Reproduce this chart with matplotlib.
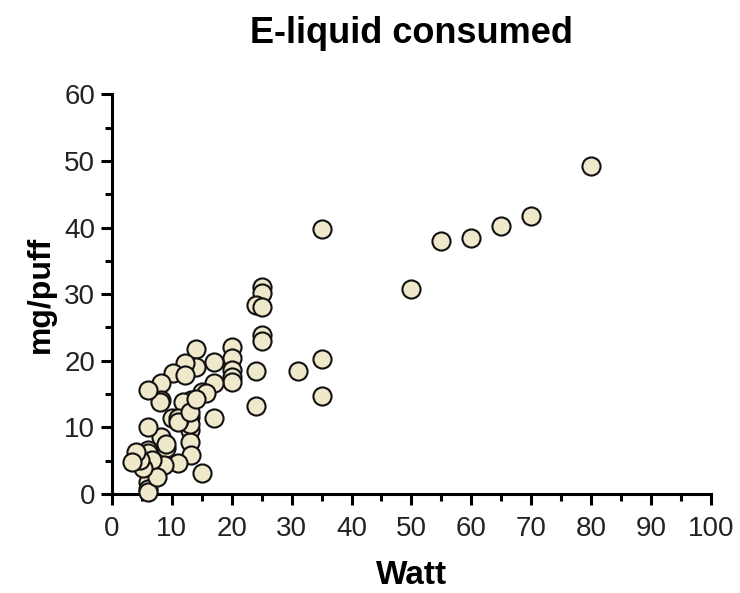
import matplotlib
matplotlib.use("Agg")
import matplotlib.pyplot as plt
from matplotlib.ticker import MultipleLocator

plt.rcParams['font.family'] = ['Liberation Sans', 'DejaVu Sans']

# Watt vs mg/puff
watt = [80, 70, 65, 60, 55, 50, 35, 35, 35, 31,
        25, 25, 24, 25, 25, 25, 24, 24,
        20, 20, 20, 20, 20,
        17, 17, 17, 14, 14, 15, 15, 15.8,
        13.3, 13, 13, 13, 13.3, 13, 12.2, 12, 11.9, 11.3,
        10.2, 10, 11, 11, 12.2,
        8.3, 8.3, 8, 8.3, 9.1, 8.8, 9.1,
        6, 6, 6, 6, 6, 6, 6, 6.8, 7.5,
        5.2, 4.7, 4.1, 3.3, 11, 13, 14.1]
mg_puff = [49.2, 41.8, 40.2, 38.5, 38.0, 30.8, 39.8, 20.3, 14.7, 18.4,
           31.0, 30.2, 28.4, 28.0, 23.9, 23.0, 18.5, 13.2,
           22.0, 20.4, 18.6, 17.5, 16.8,
           19.8, 16.6, 11.4, 21.8, 19.1, 15.3, 3.1, 15.1,
           14.1, 11.5, 9.6, 7.8, 5.8, 10.5, 19.6, 13.6, 13.8, 11.1,
           18.1, 11.4, 4.6, 11.4, 17.8,
           16.6, 14.1, 13.8, 8.6, 6.9, 4.3, 7.5,
           15.6, 10.1, 6.6, 6.2, 1.8, 0.8, 0.3, 5.1, 2.6,
           3.9, 5.1, 6.3, 4.8, 10.8, 12.3, 14.3]

fig = plt.figure(figsize=(7.4, 5.93), dpi=100)
ax = fig.add_axes([0.151, 0.167, 0.81, 0.674])

ax.scatter(watt, mg_puff, s=170, facecolor='#EFE8CB', edgecolor='#111111',
           linewidth=1.5, zorder=3, clip_on=False)

ax.set_xlim(0, 100)
ax.set_ylim(0, 60)
ax.xaxis.set_major_locator(MultipleLocator(10))
ax.xaxis.set_minor_locator(MultipleLocator(5))
ax.yaxis.set_major_locator(MultipleLocator(10))
ax.yaxis.set_minor_locator(MultipleLocator(5))

for s in ['top', 'right']:
    ax.spines[s].set_visible(False)
for s in ['left', 'bottom']:
    ax.spines[s].set_linewidth(2.2)

ax.tick_params(which='major', length=8, width=2.2, labelsize=20,
               labelcolor='#222222')
ax.tick_params(axis='x', which='major', pad=8)
ax.tick_params(axis='y', which='major', pad=4)
ax.tick_params(which='minor', length=5, width=2.2)

ax.set_title('E-liquid consumed', fontsize=26, fontweight='bold', pad=37)
ax.set_xlabel('Watt', fontsize=24, fontweight='bold', labelpad=13)
ax.set_ylabel('mg/puff', fontsize=23, fontweight='bold', labelpad=6)

fig.savefig('out.png', dpi=100)
